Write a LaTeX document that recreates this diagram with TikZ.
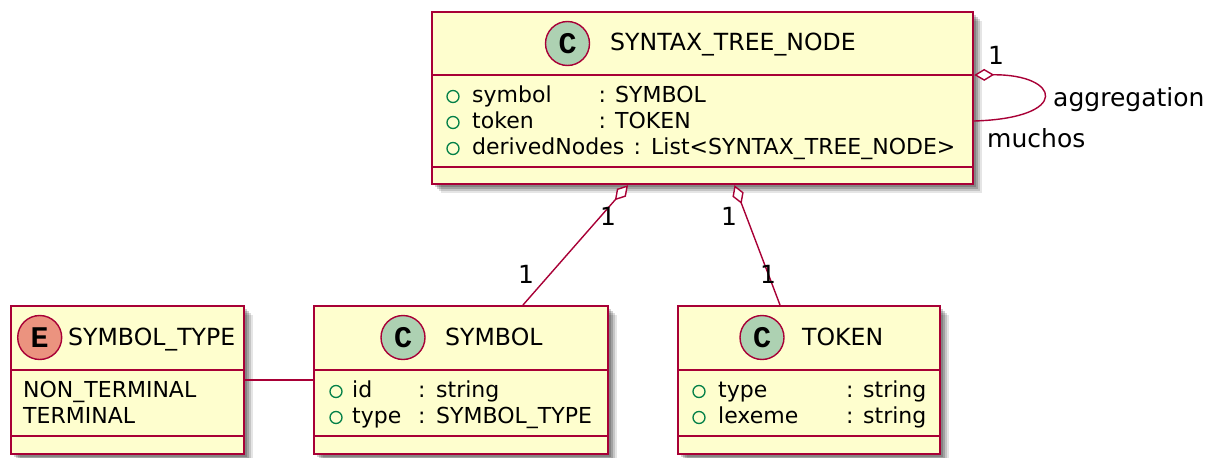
\documentclass[tikz,border=0pt]{standalone}
\usepackage{fontspec}
\setmainfont{DejaVu Sans}
\newfontfamily\glyphfont{Liberation Mono}
\usetikzlibrary{arrows.meta,shadows,calc}
\definecolor{umlfill}{HTML}{FEFECE}
\definecolor{umlborder}{HTML}{A80036}
\definecolor{cfill}{HTML}{ADD1B2}
\definecolor{efill}{HTML}{EB937F}
\definecolor{pubgreen}{HTML}{038048}
\begin{document}
\begin{tikzpicture}[x=1pt,y=-1pt,
  classbox/.style={draw=umlborder, fill=umlfill, line width=2.2pt, inner sep=0pt, anchor=north west,
     drop shadow={shadow xshift=3pt,shadow yshift=-3pt,opacity=0.18,fill=black},
     drop shadow={shadow xshift=5pt,shadow yshift=-5pt,opacity=0.18,fill=black},
     drop shadow={shadow xshift=7pt,shadow yshift=-7pt,opacity=0.14,fill=black},
     drop shadow={shadow xshift=9pt,shadow yshift=-9pt,opacity=0.10,fill=black}},
  sepline/.style={draw=umlborder, line width=2.2pt},
  conn/.style={draw=umlborder, line width=1.4pt},
  aggr/.style={conn, {Diamond[fill=white, length=20pt, width=12pt]}-},
  title/.style={anchor=base west, inner sep=0pt, font=\fontsize{23.6}{26}\selectfont},
  attr/.style={anchor=base west, inner sep=0pt, font=\fontsize{22}{26}\selectfont},
  lbl/.style={anchor=base west, inner sep=0pt, font=\fontsize{25}{28}\selectfont},
  badge/.style={circle, draw=umlborder, line width=1.4pt, minimum size=44pt, inner sep=0pt,
     font=\glyphfont\bfseries\fontsize{30}{30}\selectfont},
  pub/.style={circle, draw=pubgreen, line width=1.3pt, minimum size=12pt, inner sep=0pt}
]
\useasboundingbox (0,0) rectangle (1219,458);

% ---------- SYNTAX_TREE_NODE ----------
\node[classbox, minimum width=541pt, minimum height=172pt] (stn) at (431,11) {};
\draw[sepline] ($(stn.north west)+(0,64)$) -- ($(stn.north east)+(0,64)$);
\draw[sepline] ($(stn.north west)+(0,156)$) -- ($(stn.north east)+(0,156)$);
\node[badge, fill=cfill] (stnC) at (567.5,43.5) {C};
\node[title] (stnT) at (610,50) {SYNTAX\_TREE\_NODE};
\node[pub] (stnP1) at (453,96.5) {};
\node[attr] (stnA1) at (472,102) {symbol};
\node[attr] (stnK1) at (598.5,102) {:};
\node[attr] (stnV1) at (615,102) {SYMBOL};
\node[pub] (stnP2) at (453,122.5) {};
\node[attr] (stnA2) at (472,128) {token};
\node[attr] (stnK2) at (598.5,128) {:};
\node[attr] (stnV2) at (615,128) {TOKEN};
\node[pub] (stnP3) at (453,148.5) {};
\node[attr] (stnA3) at (472,154) {derivedNodes};
\node[attr] (stnK3) at (633.5,154) {:};
\node[attr] (stnV3) at (651,154) {List<SYNTAX\_TREE\_NODE>};

% ---------- SYMBOL_TYPE ----------
\node[classbox, minimum width=233pt, minimum height=148pt] (et) at (10,305) {};
\draw[sepline] ($(et.north west)+(0,65)$) -- ($(et.north east)+(0,65)$);
\draw[sepline] ($(et.north west)+(0,131)$) -- ($(et.north east)+(0,131)$);
\node[badge, fill=efill] (etE) at (39.7,337.5) {E};
\node[title] (etT) at (68,345) {SYMBOL\_TYPE};
\node[attr] (etA1) at (23,397) {NON\_TERMINAL};
\node[attr] (etA2) at (23,423) {TERMINAL};

% ---------- SYMBOL ----------
\node[classbox, minimum width=294pt, minimum height=148pt] (sym) at (313,305) {};
\draw[sepline] ($(sym.north west)+(0,65)$) -- ($(sym.north east)+(0,65)$);
\draw[sepline] ($(sym.north west)+(0,131)$) -- ($(sym.north east)+(0,131)$);
\node[badge, fill=cfill] (symC) at (403,337.5) {C};
\node[title] (symT) at (445,345) {SYMBOL};
\node[pub] (symP1) at (336,391.5) {};
\node[attr] (symA1) at (352,397) {id};
\node[attr] (symK1) at (418,397) {:};
\node[attr] (symV1) at (436,397) {string};
\node[pub] (symP2) at (336,417.5) {};
\node[attr] (symA2) at (352,423) {type};
\node[attr] (symK2) at (418,423) {:};
\node[attr] (symV2) at (436,423) {SYMBOL\_TYPE};

% ---------- TOKEN ----------
\node[classbox, minimum width=262pt, minimum height=148pt] (tok) at (677,305) {};
\draw[sepline] ($(tok.north west)+(0,65)$) -- ($(tok.north east)+(0,65)$);
\draw[sepline] ($(tok.north west)+(0,131)$) -- ($(tok.north east)+(0,131)$);
\node[badge, fill=cfill] (tokC) at (762,337.5) {C};
\node[title] (tokT) at (802,345) {TOKEN};
\node[pub] (tokP1) at (699,391.5) {};
\node[attr] (tokA1) at (718,397) {type};
\node[attr] (tokK1) at (846,397) {:};
\node[attr] (tokV1) at (863,397) {string};
\node[pub] (tokP2) at (699,417.5) {};
\node[attr] (tokA2) at (718,423) {lexeme};
\node[attr] (tokK2) at (846,423) {:};
\node[attr] (tokV2) at (863,423) {string};

% ---------- connectors ----------
\coordinate (stnL1) at ($(stn.north east)+(0,64)$);
\coordinate (stnL2) at ($(stn.north east)+(0,110)$);
\coordinate (stnS1) at ($(stn.south west)+(197,0)$);
\coordinate (stnS2) at ($(stn.south west)+(303.5,0)$);
\coordinate (symN) at ($(sym.north west)+(210,0)$);
\coordinate (tokN) at ($(tok.north west)+(103,0)$);

\draw[aggr] (stnL1) .. controls ($(stnL1)+(86,-1)$) and ($(stnL2)+(98,-3)$) .. (stnL2);
\draw[aggr] (stnS1) -- (symN);
\draw[aggr] (stnS2) -- (tokN);
\draw[conn] (et.east) -- (sym.west);

% ---------- labels ----------
\node[lbl] (lblLoop1) at (988,64) {1};
\node[lbl] (lblAgg) at (1053,106) {aggregation};
\node[lbl] (lblMuchos) at (987,147) {muchos};
\node[lbl] (lblS1) at (600,225) {1};
\node[lbl] (lblS2) at (518,283) {1};
\node[lbl] (lblT1) at (721,225) {1};
\node[lbl] (lblT2) at (760,283) {1};
\end{tikzpicture}
\end{document}
